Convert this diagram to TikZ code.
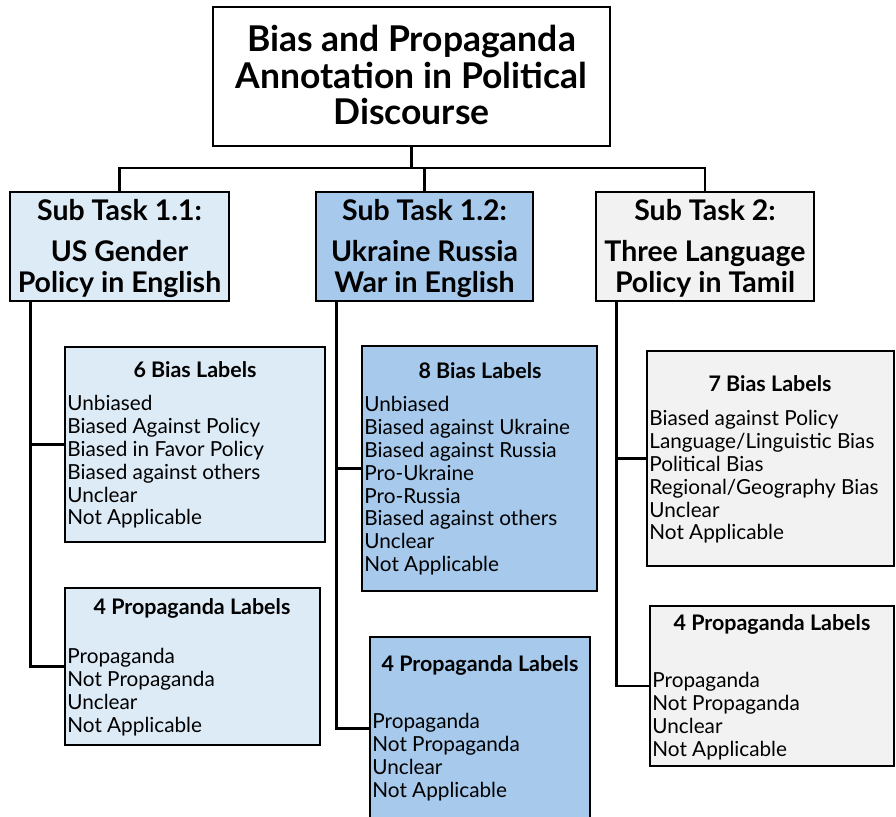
\documentclass[tikz,border=0pt]{standalone}
\usepackage{fontspec}
\setmainfont{Lato}
\usepackage{xcolor}
\usetikzlibrary{positioning,fit,calc}
\definecolor{paleblue}{HTML}{DDEBF7}
\definecolor{midblue}{HTML}{A6C9EC}
\definecolor{palegrey}{HTML}{F2F2F2}

\begin{document}
\begin{tikzpicture}[x=0.02cm, y=-0.02cm, line width=1.6pt,
  box/.style={draw, inner sep=0pt},
  ttl/.style={font=\fontsize{20.2}{21}\selectfont\bfseries, align=center},
  sub/.style={font=\fontsize{16.2}{17.6}\selectfont\bfseries, align=center},
  hd/.style={font=\fontsize{12.2}{13}\selectfont\bfseries},
  lst/.style={font=\fontsize{11.8}{13}\selectfont, align=left, anchor=north west, inner sep=0pt}]
\useasboundingbox (0,0) rectangle (896,816);
% top level
\node[box, fit={(213,7) (610,146)}] (title) {};
\node[ttl] (titlet) at ($(title.center)+(0,-1.5)$) {Bias and Propaganda\\Annotation in Political\\Discourse};
% sub tasks
\node[box, fill=paleblue, fit={(10,192) (229,301)}] (s11) {};
\node[sub] (s11t) at ($(s11.center)+(0,2)$) {Sub Task 1.1:\\[6pt]US Gender\\Policy in English};
\node[box, fill=midblue, fit={(316,192) (533,301)}] (s12) {};
\node[sub] (s12t) at ($(s12.center)+(0,2)$) {Sub Task 1.2:\\[6pt]Ukraine Russia\\War in English};
\node[box, fill=palegrey, fit={(596,192) (814,301)}] (s2) {};
\node[sub] (s2t) at ($(s2.center)+(0,2)$) {Sub Task 2:\\[6pt]Three Language\\Policy in Tamil};
% label boxes
\node[box, fill=paleblue, fit={(65,347) (325,542)}] (b11) {};
\node[hd] (b11h) at (195,370) {6 Bias Labels};
\node[lst] (b11l) at (66,394) {Unbiased\\Biased Against Policy\\Biased in Favor Policy\\Biased against others\\Unclear\\Not Applicable};
\node[box, fill=paleblue, fit={(65,588) (320,745)}] (p11) {};
\node[hd] (p11h) at (192,608) {4 Propaganda Labels};
\node[lst] (p11l) at (66,647) {Propaganda\\Not Propaganda\\Unclear\\Not Applicable};
\node[box, fill=midblue, fit={(362,346) (597,591)}] (b12) {};
\node[hd] (b12h) at (480,371) {8 Bias Labels};
\node[lst] (b12l) at (363,395) {Unbiased\\Biased against Ukraine\\Biased against Russia\\Pro-Ukraine\\Pro-Russia\\Biased against others\\Unclear\\Not Applicable};
\node[box, fill=midblue, fit={(370,637) (590,820)}] (p12) {};
\node[hd] (p12h) at (480,665) {4 Propaganda Labels};
\node[lst] (p12l) at (371,712) {Propaganda\\Not Propaganda\\Unclear\\Not Applicable};
\node[box, fill=palegrey, fit={(647,351) (894,566)}] (b2) {};
\node[hd] (b2h) at (770,384) {7 Bias Labels};
\node[lst] (b2l) at (648,409) {Biased against Policy\\Language/Linguistic Bias\\Political Bias\\Regional/Geography Bias\\Unclear\\Not Applicable};
\node[box, fill=palegrey, fit={(650,606) (894,766)}] (p2) {};
\node[hd] (p2h) at (772,624) {4 Propaganda Labels};
\node[lst] (p2l) at (651,671) {Propaganda\\Not Propaganda\\Unclear\\Not Applicable};
% connectors
\coordinate (bus) at (title.south |- 0,168);
\draw (title.south) -- (bus);
\draw (s11.north) |- (bus) -| (s2.north);
\draw (s12.north) -- (s12.north |- bus);
\coordinate (t11) at ($(s11.south west)+(22,0)$);
\coordinate (t12) at ($(s12.south west)+(22,0)$);
\coordinate (t2) at ($(s2.south west)+(22,0)$);
\draw (t11) |- (p11.west);
\draw (b11.west) -- (b11.west -| t11);
\draw (t12) |- (p12.west);
\draw (b12.west) -- (b12.west -| t12);
\draw (t2) |- (p2.west);
\draw (b2.west) -- (b2.west -| t2);
\end{tikzpicture}
\end{document}
